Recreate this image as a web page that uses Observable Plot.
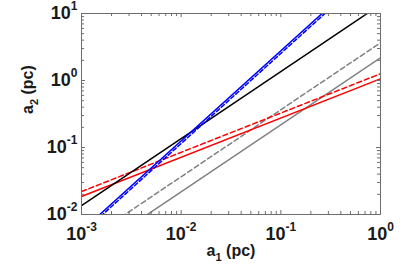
<!DOCTYPE html>
<html><head><meta charset="utf-8">
<script src="https://cdn.jsdelivr.net/npm/d3@7"></script>
<script src="https://cdn.jsdelivr.net/npm/@observablehq/plot@0.6"></script>
<style>body{margin:0;background:#fff} svg{display:block}</style>
</head><body><div id="chart"></div>
<script>
// x positions at which each straight (log-log) line is sampled
const xEnds = [0.001, 1];
// y values of each series at xEnds
const blackY     = [0.0136, 13.6];
const blueSolidY = [0.00566, 61.4];
const blueDashY  = [0.00518, 56.2];
const redSolidY  = [0.0186, 1.06];
const redDashY   = [0.022, 1.26];
const graySolidY = [0.00218, 2.18];
const grayDashY  = [0.00366, 3.66];

const xMajor = [1e-3, 1e-2, 1e-1, 1];
const yMajor = [1e-2, 1e-1, 1, 10];
const xTickLabels = ["10^-3", "10^-2", "10^-1", "10^0"];
const yTickLabels = ["10^-2", "10^-1", "10^0", "10^1"];
const mantissas = [2, 3, 4, 5, 6, 7, 8, 9];
const xMinor = xMajor.slice(0, -1).flatMap(d => mantissas.map(m => m * d));
const yMinor = yMajor.slice(0, -1).flatMap(d => mantissas.map(m => m * d));
const xLabel = "a_1 (pc)";
const yLabel = "a_2 (pc)";

const series = [
  {ys: graySolidY, color: "#808080", dash: null},
  {ys: grayDashY,  color: "#808080", dash: "5,3"},
  {ys: redSolidY,  color: "#ff0000", dash: null},
  {ys: redDashY,   color: "#ff0000", dash: "5,3"},
  {ys: blackY,     color: "#000000", dash: null},
  {ys: blueSolidY, color: "#0000ff", dash: null},
  {ys: blueDashY,  color: "#0000ff", dash: "4,2.5"}
];

const W = 415, H = 277;
const mL = 81, mR = 35, mT = 13, mB = 63;
const pw = W - mL - mR, ph = H - mT - mB;
const axisColor = "#6e6e6e";
const majLen = 4, minLen = 3;

const marks = [];
for (const s of series) {
  marks.push(Plot.line(xEnds.map((x, i) => ({x, y: s.ys[i]})), {
    x: "x", y: "y", stroke: s.color, strokeWidth: 1.5,
    strokeDasharray: s.dash, clip: true
  }));
}
// inward ticks on all four sides
for (const [vals, len] of [[xMajor, majLen], [xMinor, minLen]]) {
  marks.push(Plot.tickX(vals, {stroke: axisColor, insetTop: ph - len}));
  marks.push(Plot.tickX(vals, {stroke: axisColor, insetBottom: ph - len}));
}
for (const [vals, len] of [[yMajor, majLen], [yMinor, minLen]]) {
  marks.push(Plot.tickY(vals, {stroke: axisColor, insetRight: pw - len}));
  marks.push(Plot.tickY(vals, {stroke: axisColor, insetLeft: pw - len}));
}
marks.push(Plot.frame({stroke: axisColor}));
marks.push(Plot.axisX(xMajor, {anchor: "bottom", tickSize: 0, tickPadding: 13,
  tickFormat: d => xTickLabels[xMajor.indexOf(d)], fontSize: 18, fontWeight: "bold",
  fill: "#1a1a1a", label: null}));
marks.push(Plot.axisY(yMajor, {anchor: "left", tickSize: 0, tickPadding: 4,
  tickFormat: d => yTickLabels[yMajor.indexOf(d)], fontSize: 18, fontWeight: "bold",
  fill: "#1a1a1a", label: null}));
marks.push(Plot.text([xLabel], {text: d => d, frameAnchor: "bottom", dy: 41,
  fontSize: 16, fontWeight: "bold", fill: "#1a1a1a"}));
marks.push(Plot.text([yLabel], {text: d => d, frameAnchor: "left", rotate: -90, dx: -54,
  fontSize: 16, fontWeight: "bold", fill: "#1a1a1a"}));

const chart = Plot.plot({
  width: W, height: H,
  marginLeft: mL, marginRight: mR, marginTop: mT, marginBottom: mB,
  x: {type: "log", domain: [1e-3, 1]},
  y: {type: "log", domain: [1e-2, 10]},
  style: {fontFamily: "'Liberation Sans', Arial, Helvetica, sans-serif", background: "#fff", color: "#1a1a1a"},
  marks
});

// superscripts (^) and subscripts (_) as tspans
const ns = "http://www.w3.org/2000/svg";
chart.querySelectorAll("text").forEach(el => {
  const s = el.textContent;
  let m = s.match(/^(.*?)\^(\S+)(.*)$/);
  if (m) {
    el.textContent = m[1];
    const t = document.createElementNS(ns, "tspan");
    t.setAttribute("dy", "-9"); t.setAttribute("font-size", "12");
    t.textContent = m[2];
    el.appendChild(t);
    return;
  }
  m = s.match(/^(.*?)_(\S)(.*)$/);
  if (m) {
    el.textContent = m[1];
    const t = document.createElementNS(ns, "tspan");
    t.setAttribute("dy", "5"); t.setAttribute("font-size", "11");
    t.textContent = m[2];
    el.appendChild(t);
    const r = document.createElementNS(ns, "tspan");
    r.setAttribute("dy", "-5");
    r.textContent = m[3];
    el.appendChild(r);
  }
});
document.getElementById("chart").appendChild(chart);
</script>
</body></html>
